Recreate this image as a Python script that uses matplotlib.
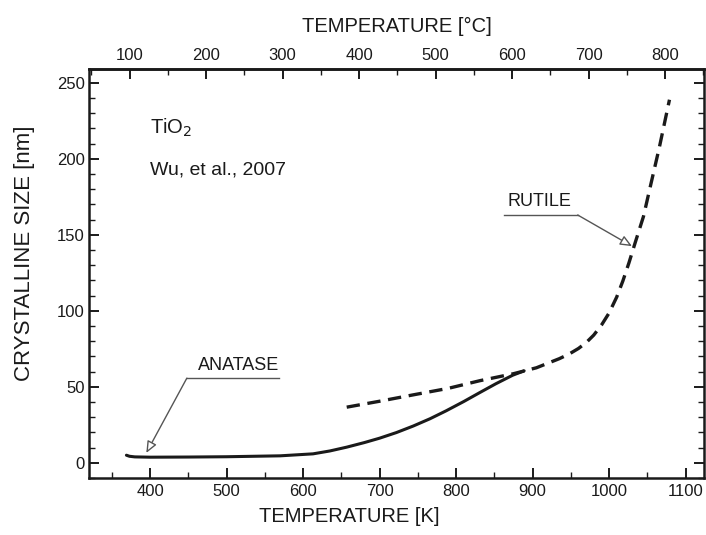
import matplotlib
matplotlib.use('Agg')
import matplotlib.pyplot as plt
from matplotlib.ticker import MultipleLocator

plt.rcParams['font.family'] = ['Liberation Sans', 'DejaVu Sans']

# anatase crystallite size (solid) and rutile crystallite size (dashed)
anatase_T = [369, 373, 380, 400, 450, 500, 570, 613, 635, 657, 680, 700, 722, 744, 766, 787, 810, 831, 852, 874, 889]
anatase_size = [5.0, 4.3, 3.9, 3.7, 3.8, 4.0, 4.6, 5.9, 7.8, 10.3, 13.3, 16.2, 19.9, 24.2, 29.0, 34.2, 40.3, 46.2, 52.0, 57.6, 60.5]

rutile_T = [657, 700, 744, 790, 831, 875, 905, 935, 948, 960, 970, 980, 990, 1000, 1010, 1018, 1026, 1034, 1045, 1053, 1066, 1079]
rutile_size = [36.6, 40.5, 44.7, 49.0, 54.0, 58.6, 62.5, 68.5, 71.6, 75.2, 79.0, 84.0, 90.5, 98.5, 109.0, 119.5, 131.5, 144.5, 162.0, 179.6, 208.0, 238.8]

x_ticks_K = [400, 500, 600, 700, 800, 900, 1000, 1100]
x_ticks_C = [100, 200, 300, 400, 500, 600, 700, 800]
y_ticks = [0, 50, 100, 150, 200, 250]

ink = '#1a1a1a'
leader = '#555555'

fig = plt.figure(figsize=(7.06, 5.35), dpi=100)
ax = fig.add_axes([0.126, 0.1065, 0.871, 0.7645])

ax.plot(anatase_T, anatase_size, color=ink, lw=2.2, solid_capstyle='round', solid_joinstyle='round')
ax.plot(rutile_T, rutile_size, color=ink, lw=2.4, dashes=(4, 2.3))

ax.set_xlim(320, 1124)
ax.set_ylim(-10, 259)
ax.set_xticks(x_ticks_K)
ax.set_yticks(y_ticks)
ax.xaxis.set_minor_locator(MultipleLocator(50))
ax.yaxis.set_minor_locator(MultipleLocator(10))
ax.tick_params(which='both', direction='in', right=True, labelsize=12, colors=ink, width=1.4, pad=4)
ax.tick_params(axis='y', pad=3)
ax.tick_params(which='major', length=7)
ax.tick_params(which='minor', length=4, width=1.0)
for s in ax.spines.values():
    s.set_linewidth(1.8)
    s.set_color(ink)

ax.set_xlabel('TEMPERATURE [K]', fontsize=14.5, color=ink)
ax.xaxis.set_label_coords(0.423, -0.072)
ax.set_ylabel('CRYSTALLINE SIZE [nm]', fontsize=16, color=ink)
ax.yaxis.set_label_coords(-0.088, 0.55)

# Celsius scale on top
top = ax.secondary_xaxis('top', functions=(lambda k: k - 273.15, lambda c: c + 273.15))
top.set_xticks(x_ticks_C)
top.xaxis.set_minor_locator(MultipleLocator(50))
top.tick_params(which='both', direction='in', labelsize=12, colors=ink, width=1.4, pad=4)
top.tick_params(which='major', length=7)
top.tick_params(which='minor', length=4, width=1.0)
top.spines['top'].set_linewidth(1.8)
top.set_xlabel('TEMPERATURE [°C]', fontsize=14.5, color=ink, labelpad=12)

ax.text(400, 220, 'TiO$_2$', fontsize=14.5, color=ink, va='center')
ax.text(400, 192.5, 'Wu, et al., 2007', fontsize=14, color=ink, va='center')

# phase labels with underline leaders and open arrowheads
arrow = dict(arrowstyle='-|>,head_length=0.7,head_width=0.3', color=leader, lw=1.0,
             fc='white', shrinkA=0, shrinkB=0)
ax.text(462, 58.5, 'ANATASE', fontsize=13, color=ink, va='bottom')
ax.plot([448, 569], [55.7, 55.7], color=leader, lw=1.0)
ax.annotate('', xy=(395, 6.5), xytext=(448, 55.7), arrowprops=arrow)

ax.text(867, 166, 'RUTILE', fontsize=13, color=ink, va='bottom')
ax.plot([863, 959], [163, 163], color=leader, lw=1.0)
ax.annotate('', xy=(1030, 142.5), xytext=(959, 163), arrowprops=arrow)

fig.savefig('out.png', dpi=100)
